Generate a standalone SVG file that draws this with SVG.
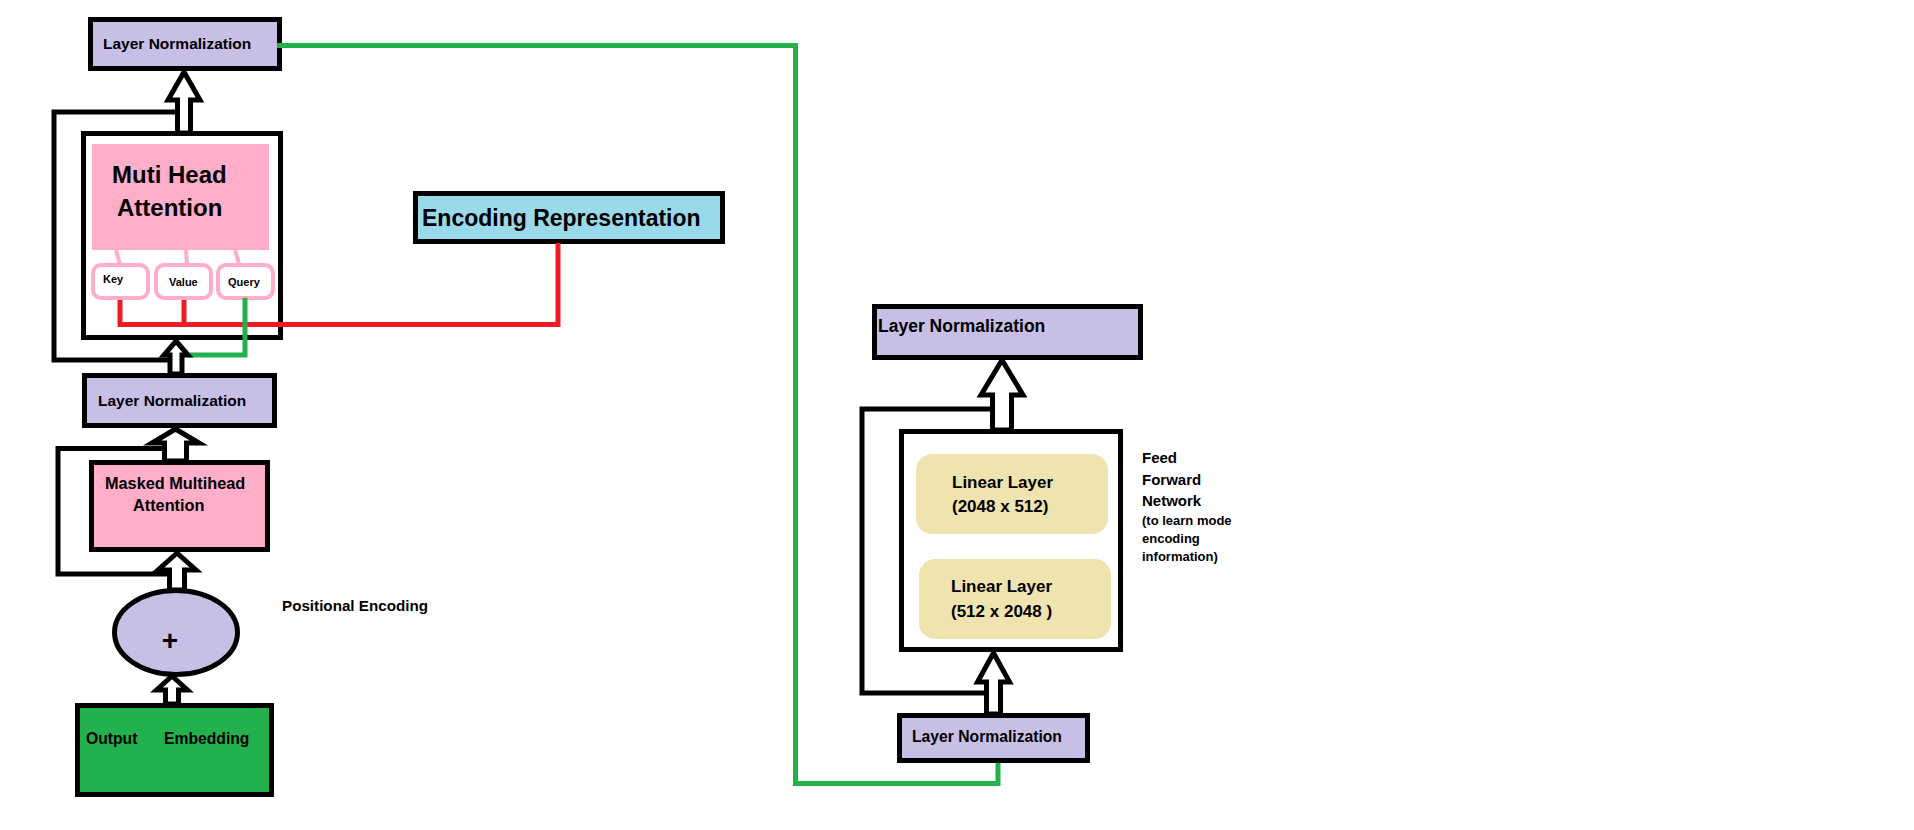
<svg xmlns="http://www.w3.org/2000/svg" width="1914" height="830" viewBox="0 0 1914 830">
  <style>
    text { font-family: "Liberation Sans", Arial, sans-serif; font-weight: bold; fill: #000; }
    .box { stroke: #000; stroke-width: 5; }
    .ln { fill: #C8BFE7; }
    .pink { fill: #FFAEC9; }
    .tan { fill: #EFE4B0; }
    .kvq { fill: #fff; stroke: #FFAEC9; stroke-width: 4; }
    .stem { stroke: #FFAEC9; stroke-width: 4; fill: none; }
    .wire { fill: none; stroke-width: 5; stroke-linejoin: miter; }
    .loop { fill: none; stroke: #000; stroke-width: 5; }
    .red { stroke: #ED1C24; }
    .green { stroke: #22B14C; }
    .arrow { fill: #fff; stroke: #000; stroke-width: 5; stroke-linejoin: miter; }
  </style>
  <rect width="1914" height="830" fill="#fff"/>

  <g id="nodes">
    <g id="ln-top">
      <rect class="box ln" x="90.5" y="19.5" width="189" height="49"/>
      <text x="103" y="49" font-size="15.5">Layer Normalization</text>
    </g>
    <g id="mha">
      <rect class="box" fill="#fff" x="83.5" y="133.5" width="197" height="204"/>
      <rect class="pink" x="92" y="144" width="177" height="106"/>
      <text x="112" y="183" font-size="24">Muti Head</text>
      <text x="117" y="216" font-size="24">Attention</text>
      <path class="stem" d="M116 250 L120 264 M186 250 L187 264 M235 250 L239 264"/>
    </g>
    <g id="key">
      <rect class="kvq" x="93" y="265" width="55" height="33" rx="8"/>
      <text x="103" y="283" font-size="11">Key</text>
    </g>
    <g id="value">
      <rect class="kvq" x="156" y="265" width="55" height="33" rx="8"/>
      <text x="169" y="286" font-size="11">Value</text>
    </g>
    <g id="query">
      <rect class="kvq" x="218" y="265" width="55" height="33" rx="8"/>
      <text x="228" y="286" font-size="11">Query</text>
    </g>
    <g id="ln-mid">
      <rect class="box ln" x="84.5" y="375.5" width="190" height="50"/>
      <text x="98" y="406" font-size="15.5">Layer Normalization</text>
    </g>
    <g id="masked-mha">
      <rect class="box pink" x="91.5" y="462.5" width="176" height="87"/>
      <text x="105" y="489" font-size="16.3">Masked Multihead</text>
      <text x="133" y="511" font-size="16.3">Attention</text>
    </g>
    <g id="pos-add">
      <ellipse class="box ln" cx="176" cy="632.5" rx="61.5" ry="42"/>
      <text x="170" y="650" font-size="28" text-anchor="middle">+</text>
    </g>
    <g id="pos-label">
      <text x="282" y="611" font-size="15.2">Positional Encoding</text>
    </g>
    <g id="output-embedding">
      <rect class="box" fill="#22B14C" x="77.5" y="705.5" width="194" height="89"/>
      <text x="86" y="744" font-size="15.7">Output</text>
      <text x="164" y="744" font-size="15.7">Embedding</text>
    </g>
    <g id="encoding-representation">
      <rect class="box" fill="#99D9EA" x="415.5" y="193.5" width="307" height="48"/>
      <text x="422" y="226" font-size="23">Encoding Representation</text>
    </g>
    <g id="ln-ffn-out">
      <rect class="box ln" x="874.5" y="306.5" width="266" height="51"/>
      <text x="878" y="332" font-size="17.5">Layer Normalization</text>
    </g>
    <g id="ffn">
      <rect class="box" fill="#fff" x="901.5" y="431.5" width="219" height="218"/>
      <rect class="tan" x="916" y="454" width="192" height="80" rx="16"/>
      <text x="952" y="488" font-size="17">Linear Layer</text>
      <text x="952" y="512" font-size="17">(2048 x 512)</text>
      <rect class="tan" x="919" y="559" width="192" height="80" rx="16"/>
      <text x="951" y="592" font-size="17">Linear Layer</text>
      <text x="951" y="617" font-size="17">(512 x 2048 )</text>
    </g>
    <g id="ffn-label">
      <text x="1142" y="463" font-size="15">Feed</text>
      <text x="1142" y="485" font-size="15">Forward</text>
      <text x="1142" y="506" font-size="15">Network</text>
      <text x="1142" y="525" font-size="13">(to learn mode</text>
      <text x="1142" y="543" font-size="13">encoding</text>
      <text x="1142" y="561" font-size="13">information)</text>
    </g>
    <g id="ln-ffn-in">
      <rect class="box ln" x="899.5" y="715.5" width="188" height="45"/>
      <text x="912" y="742" font-size="15.7">Layer Normalization</text>
    </g>
  </g>

  <g id="connectors">
    <!-- residual loops -->
    <path class="loop" d="M178 112 H54 V360 H172"/>
    <path class="loop" d="M164 448.5 H58 V574 H170"/>
    <path class="loop" d="M994 409 H862 V693 H984"/>
    <!-- key / value / query inputs -->
    <path class="wire red" d="M120 300 V324.5 H558 V243"/>
    <path class="wire red" d="M184 300 V324.5"/>
    <path class="wire green" d="M245 298 V355 H188"/>
    <!-- decoder output to feed forward block -->
    <path class="wire green" d="M277 45.5 H795.5 V783.5 H998 V763"/>
    <!-- block arrows -->
    <path class="arrow" d="M184 72 L200 100 H190.5 V133 H177.5 V100 H168 Z"/>
    <path class="arrow" d="M176 341 L188 355 H182 V374 H170 V355 H164 Z"/>
    <path class="arrow" d="M175.5 429 L199 443 H186.5 V461 H164.5 V443 H152 Z"/>
    <path class="arrow" d="M177 553 L196 570 H184.5 V590 H169.5 V570 H158 Z"/>
    <path class="arrow" d="M172 676 L187.5 690 H178.5 V704 H165.5 V690 H156.5 Z"/>
    <path class="arrow" d="M1002 360 L1023 395 H1011.5 V430 H992.5 V395 H981 Z"/>
    <path class="arrow" d="M993.5 653 L1009.5 682 H1000.5 V714 H986.5 V682 H977.5 Z"/>
  </g>
</svg>
